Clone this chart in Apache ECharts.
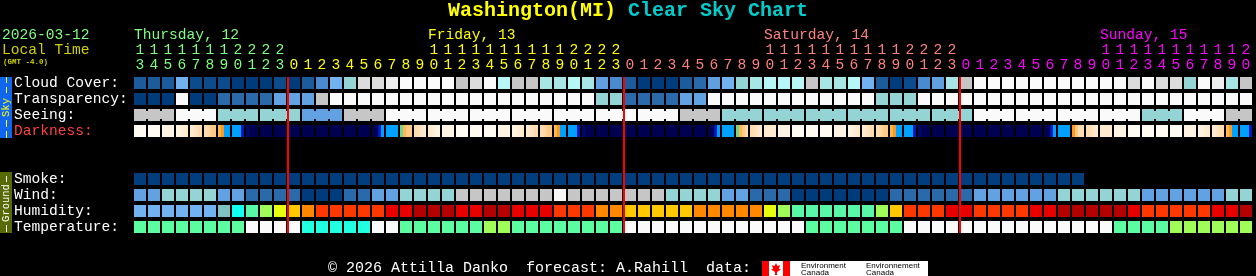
<!DOCTYPE html>
<html><head><meta charset="utf-8">
<script src="https://cdn.jsdelivr.net/npm/echarts@6/dist/echarts.min.js"></script>
<style>html,body{margin:0;padding:0;background:#000;}#c{width:1256px;height:276px;}</style>
</head><body><div id="c"></div>
<script>
// ---- tick labels / categories ----
const hours = [13,14,15,16,17,18,19,20,21,22,23,
  0,1,2,3,4,5,6,7,8,9,10,11,12,13,14,15,16,17,18,19,20,21,22,23,
  0,1,2,3,4,5,6,7,8,9,10,11,12,13,14,15,16,17,18,19,20,21,22,23,
  0,1,2,3,4,5,6,7,8,9,10,11,12,13,14,15,16,17,18,19,20];
const days = ['Thursday, 12','Friday, 13','Saturday, 14','Sunday, 15'];
const dayColors = ['#80ff80','#ffff00','#ff8080','#ff00ff'];
const rows = ['Cloud Cover:','Transparency:','Seeing:','Darkness:','','','Smoke:','Wind:','Humidity:','Temperature:'];

// ---- series values (colour levels) ----
const cloud = [2,2,2,6,1,1,1,0,0,0, 1,0,2,4,6,7,11,11,12,13, 13,13,13,10,11,13,9,10,10,8,
  8,9,8,5,4,2,0,0,0,2, 3,5,6,7,8,9,9,9,10,8, 8,9,6,2,0,1,4,5,8,10,
  13,13,13,13,13,13,13,13,13,13, 13,11,13,11,11,7,13,12,8,10];
const transparency = [0,0,0,5,0,0,1,1,1,1, 2,2,2,4,5,5,5,5,5,5, 5,5,5,5,5,5,5,5,5,5,
  5,5,5,3,3,1,1,1,1,2, 2,5,5,5,5,5,5,5,5,5, 5,5,5,3,3,3,5,5,5,5,
  5,5,5,5,5,5,5,5,5,5, 5,5,5,5,5,5,5,5,5,5];
// seeing: one value per 3-hour block
const seeing = [1,0,2,2,3,1,0,0,0, 0,0,0,0,1,2,2,2,2, 2,2,0,0,0,0,2,0,1];
// darkness: per hour, sub-hour segments where it changes inside the hour
const darkness = [0,0,1,[1,2],[2,3],[3,4],[5,6,8,8],[8,8,8,9],[10,11,11,11],11,
  11,11,11,11,11,11,11,[11,11,9,8],8,[7,5,4,4],
  [3,2],[2,1],1,0,0,0,1,[1,2],[2,3],[3,4],
  [5,6,8,8],[8,8,8,9],[10,11,11,11],11,11,11,11,11,11,11,
  11,[11,11,9,8],8,[7,5,4,3],[3,2],2,1,0,0,0,
  1,[1,2],[2,3],[3,4],[5,6,8,8],[8,8,8,9],[10,11,11,11],11,11,11,
  11,11,11,11,11,[11,11,9,8],8,[6,4,3,3],[3,2],2,
  1,0,0,0,0,1,[1,2],[2,3],[5,6,8,8],[8,8,8,9]];
const smoke = [0,0,0,0,0,0,0,0,0,0, 0,0,0,0,0,0,0,0,0,0, 0,0,0,0,0,0,0,0,0,0,
  0,0,0,0,0,0,0,0,0,0, 0,0,0,0,0,0,0,0,0,0, 0,0,0,0,0,0,0,0,0,0,
  0,0,0,0,0,0,0,0,null,null, null,null,null,null,null,null,null,null,null,null];
const wind = [2,2,3,3,3,3,2,2,1,1, 1,1,0,0,0,1,1,2,2,3, 3,3,3,4,4,4,4,4,4,4,
  5,4,4,4,4,4,4,4,3,3, 3,3,2,2,1,1,1,0,0,0, 0,0,0,0,1,1,1,1,1,1,
  2,2,2,2,2,2,3,3,3,3, 3,3,2,2,2,2,2,2,3,3];
const humidity = [0,0,0,0,0,0,1,2,3,4, 5,6,7,8,8,8,8,8,9,9, 10,10,10,9,9,10,10,9,9,9,
  8,8,8,7,7,6,6,6,6,6, 7,7,7,7,7,5,4,3,3,3, 3,3,3,4,6,8,8,8,9,9,
  8,8,8,8,9,9,10,10,10,10, 10,9,8,8,8,8,8,9,9,10];
const temperature = [2,2,2,2,2,2,2,2,1,1, 1,1,0,0,0,0,0,1,1,2, 2,2,2,2,2,3,3,2,2,2,
  2,2,2,2,2,1,1,1,1,1, 1,1,1,1,1,1,1,1,2,2, 2,2,2,2,2,1,1,1,1,1,
  1,1,1,1,1,1,1,1,1,1, 2,2,2,2,3,3,3,3,3,3];

// ---- palettes ----
const CLOUD_C = ['#003c7c','#0c4c8c','#1c5c9c','#2a6aaa','#4a8ad0','#60a0e0','#72b2f0','#94d4d4','#a8e6e6','#b6f6f6','#c6c6c6','#dcdcdc','#eeeeee','#fafafa'];
const TRANSP_C = ['#003c7c','#2a6aaa','#62a2e2','#94d4d4','#c6c6c6','#fafafa'];
const SEE_C = ['#fafafa','#c6c6c6','#94d4d4','#62a2e2','#2a6aaa','#003c7c'];
const DARK_C = ['#fffaf2','#fff3e3','#ffead0','#ffdcb0','#ffc884','#ffb850','#ff9820','#70d890','#00a0ff','#0018c0','#000870','#000050'];
const SMOKE_C = ['#023e7e'];
const WIND_C = ['#003c7c','#2a6aaa','#62a2e2','#94d4d4','#c6c6c6','#f6f6f6'];
const HUM_C = ['#72b2f0','#80c0c0','#10fff0','#58f8a8','#a0fc58','#e8fc10','#ffc800','#ff8800','#ff3800','#e80000','#b40000'];
const TEMP_C = ['#20ffe0','#fafafa','#5cfca0','#a0fc58'];

const FONT = '"Liberation Mono","DejaVu Sans Mono",monospace';

const dayOf = [];
(function(){ let d = 0; hours.forEach((h,i)=>{ if (i>0 && h===0) d++; dayOf.push(d); }); })();
const midnights = hours.map((h,i)=> h===0 ? i : -1).filter(i=>i>=0);
const dayAnchors = days.map((_,d)=>{ const idx = hours.findIndex((h,i)=>dayOf[i]===d && h>=10); return [idx, d]; });

function cellBox(api, col, row){
  const c = api.coord([col,row]); const s = api.size([1,1]);
  return {x: c[0]-s[0]/2+1, y: c[1]-s[1]/2+2, width: s[0]-2, height: s[1]-4};
}
function rowSeries(rowIdx, values, palette){
  const data = [];
  values.forEach((v,i)=>{ if (v!==null) data.push([i,rowIdx,v]); });
  return {type:'custom', silent:true, data: data, encode:{x:0,y:1},
    renderItem:(p, api)=>({type:'rect', shape: cellBox(api, api.value(0), rowIdx), style:{fill: palette[api.value(2)]}})};
}

const series = [
  rowSeries(0, cloud, CLOUD_C),
  rowSeries(1, transparency, TRANSP_C),
  {type:'custom', silent:true, encode:{x:0,y:1},
    data: hours.map((h,i)=>[i,2,seeing[Math.floor(i/3)]]),
    renderItem:(p, api)=>{
      const i = api.value(0); const b = cellBox(api, i, 2); const fill = SEE_C[api.value(2)];
      const ch = [{type:'rect', shape:b, style:{fill}}];
      if (i%3!==2 && i+1<hours.length) ch.push({type:'rect', shape:{x:b.x+b.width, y:b.y+2, width:api.size([1,1])[0]-b.width, height:b.height-4}, style:{fill}});
      return {type:'group', children: ch};
    }},
  {type:'custom', silent:true, encode:{x:0,y:1},
    data: darkness.map((v,i)=>[i,3]),
    renderItem:(p, api)=>{
      const b = cellBox(api, api.value(0), 3);
      const v = darkness[p.dataIndex];
      const segs = Array.isArray(v) ? v : [v];
      let fill;
      if (segs.length===1) fill = DARK_C[segs[0]];
      else {
        const n = segs.length; const stops = [];
        const smooth = segs.every(s=>s<=4);
        segs.forEach((s,k)=>{
          if (smooth) stops.push({offset:(k+0.5)/n, color:DARK_C[s]});
          else { stops.push({offset:k/n, color:DARK_C[s]}); stops.push({offset:(k+1)/n, color:DARK_C[s]}); }
        });
        if (smooth){ stops.unshift({offset:0,color:DARK_C[segs[0]]}); stops.push({offset:1,color:DARK_C[segs[n-1]]}); }
        fill = {type:'linear', x:0, y:0, x2:1, y2:0, colorStops: stops};
      }
      return {type:'rect', shape:b, style:{fill}};
    }},
  rowSeries(6, smoke, SMOKE_C),
  rowSeries(7, wind, WIND_C),
  rowSeries(8, humidity, HUM_C),
  rowSeries(9, temperature, TEMP_C),
  // midnight lines
  {type:'custom', silent:true, z:10, encode:{x:0,y:1}, data: midnights.map(c=>[c,0]),
    renderItem:(p, api)=>{
      const c0 = api.coord([api.value(0),0]); const c9 = api.coord([api.value(0),9]); const s = api.size([1,1]);
      return {type:'rect', shape:{x:c0[0]-s[0]/2, y:c0[1]-s[1]/2+2, width:2, height:c9[1]-c0[1]+s[1]-4}, style:{fill:'#ff0000'}};
    }},
  // day names
  {type:'custom', silent:true, encode:{x:0,y:1}, data: dayAnchors.map(a=>[a[0],0,a[1]]),
    renderItem:(p, api)=>{
      const c = api.coord([api.value(0),0]); const d = api.value(2);
      return {type:'text', style:{text: days[d], x:c[0]-6, y:c[1]-48, fill: dayColors[d], font:'14.6px '+FONT, verticalAlign:'middle', align:'left'}};
    }}
];

const rich = {};
dayColors.forEach((c,i)=>{ rich['d'+i] = {color:c, fontSize:14.6, fontFamily:FONT, lineHeight:15}; });

const option = {
  backgroundColor:'#000',
  animation:false,
  title:{text:'{a|Washington(MI)} {b|Clear Sky Chart}', left:'center', top:0, padding:0,
    textStyle:{fontSize:20, fontFamily:FONT, fontWeight:'bold', lineHeight:22,
      rich:{a:{color:'#ffff00', fontSize:20, fontFamily:FONT, fontWeight:'bold', lineHeight:22},
            b:{color:'#00cccc', fontSize:20, fontFamily:FONT, fontWeight:'bold', lineHeight:22}}}},
  grid:{left:133, top:75, width:1120, height:160},
  xAxis:{type:'category', data: hours.map(String), position:'top', boundaryGap:true,
    axisLine:{show:false}, axisTick:{show:false}, splitLine:{show:false},
    axisLabel:{interval:0, margin:2, hideOverlap:false,
      formatter:(v, idx)=>{ const h = hours[idx]; const d = dayOf[idx]; const t = h>=10 ? String(Math.floor(h/10)) : ' ';
        return '{d'+d+'|'+t+'}\n{d'+d+'|'+(h%10)+'}'; }, rich}},
  yAxis:{type:'category', data: rows, inverse:true,
    axisLine:{show:false}, axisTick:{show:false}, splitLine:{show:false},
    axisLabel:{interval:0, align:'left', margin:119, color:'#ffffff', fontSize:14.6, fontFamily:FONT,
      formatter: v => v==='Darkness:' ? '{r|'+v+'}' : v,
      rich:{r:{color:'#ff4040', fontSize:14.6, fontFamily:FONT}}}},
  series,
  graphic:[
    {type:'text', left:2, top:28, style:{text:'2026-03-12', fill:'#80ff80', font:'14.6px '+FONT}},
    {type:'text', left:2, top:43, style:{text:'Local Time', fill:'#d0d000', font:'14.6px '+FONT}},
    {type:'text', left:3, top:58, style:{text:'(GMT -4.0)', fill:'#d0d000', font:'bold 7.5px '+FONT}},
    // sky side bar
    {type:'rect', shape:{x:0, y:77, width:12, height:61}, style:{fill:'#1166ee'}},
    {type:'line', shape:{x1:6.5, y1:77, x2:6.5, y2:96}, style:{stroke:'#ffff00', lineWidth:1, lineDash:[6,4]}},
    {type:'line', shape:{x1:6.5, y1:120, x2:6.5, y2:138}, style:{stroke:'#ffff00', lineWidth:1, lineDash:[7,4]}},
    {type:'text', x:6.5, y:107.5, rotation:Math.PI/2, style:{text:'Sky', fill:'#ffff00', font:'10.5px '+FONT, align:'center', verticalAlign:'middle'}},
    // ground side bar
    {type:'rect', shape:{x:0, y:172, width:12, height:61}, style:{fill:'#586a08'}},
    {type:'line', shape:{x1:6.5, y1:176, x2:6.5, y2:182}, style:{stroke:'#ffffff', lineWidth:1}},
    {type:'line', shape:{x1:6.5, y1:225, x2:6.5, y2:232}, style:{stroke:'#ffffff', lineWidth:1}},
    {type:'text', x:6.5, y:203, rotation:Math.PI/2, style:{text:'Ground', fill:'#ffffff', font:'10.5px '+FONT, align:'center', verticalAlign:'middle'}},
    // footer
    {type:'text', x:328, y:268, style:{text:'\u00a9 2026 Attilla Danko  forecast: A.Rahill  data:', fill:'#ffffff', font:'15px '+FONT, verticalAlign:'middle'}},
    {type:'rect', shape:{x:762, y:261, width:28, height:15}, style:{fill:'#ffffff'}},
    {type:'rect', shape:{x:762, y:261, width:7, height:15}, style:{fill:'#ff0000'}},
    {type:'rect', shape:{x:783, y:261, width:7, height:15}, style:{fill:'#ff0000'}},
    {type:'polygon', shape:{points:[[776,263],[777.5,266],[780,265],[779,269],[781,269.5],[777,272],[777,275],[775,275],[775,272],[771,269.5],[773,269],[772,265],[774.5,266]]}, style:{fill:'#ff0000'}},
    {type:'rect', shape:{x:790, y:261, width:138, height:15}, style:{fill:'#ffffff'}},
    {type:'text', x:801, y:265.5, style:{text:'Environment', fill:'#000', font:'8px "Liberation Sans",sans-serif', verticalAlign:'middle'}},
    {type:'text', x:801, y:272.5, style:{text:'Canada', fill:'#000', font:'8px "Liberation Sans",sans-serif', verticalAlign:'middle'}},
    {type:'text', x:866, y:265.5, style:{text:'Environnement', fill:'#000', font:'8px "Liberation Sans",sans-serif', verticalAlign:'middle'}},
    {type:'text', x:866, y:272.5, style:{text:'Canada', fill:'#000', font:'8px "Liberation Sans",sans-serif', verticalAlign:'middle'}}
  ]
};
const chart = echarts.init(document.getElementById('c'));
chart.setOption(option);
</script></body></html>
